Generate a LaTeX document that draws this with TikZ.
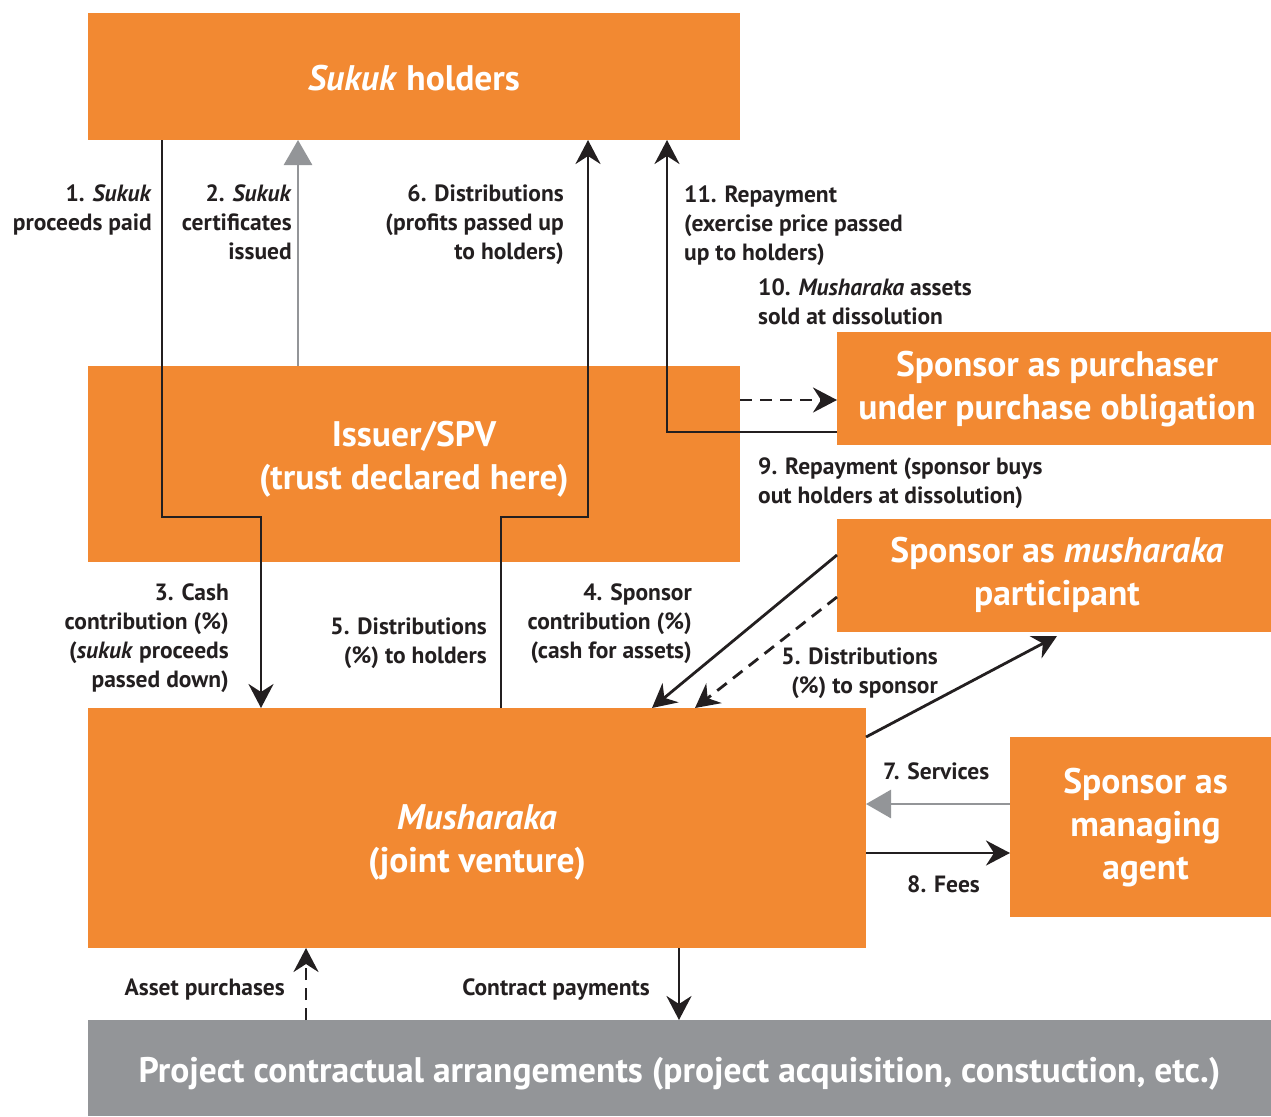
\documentclass[tikz,border=0pt]{standalone}
\usepackage{fontspec}
\setmainfont{PT Sans}
\usetikzlibrary{arrows.meta,calc}
\definecolor{orng}{RGB}{242,137,50}
\definecolor{gry}{RGB}{147,149,152}
\definecolor{ink}{RGB}{35,31,32}
\begin{document}
\begin{tikzpicture}[x=1pt,y=-1pt,
  box/.style={fill=orng, inner sep=0pt, outer sep=0pt, anchor=north west},
  btxt/.style={text=white, inner sep=0pt, font=\fontsize{35.5}{43}\selectfont\bfseries, align=center},
  lbl/.style={text=ink, font=\fontsize{23.5}{29}\selectfont\bfseries, inner sep=0pt},
  lblr/.style={lbl, align=right, anchor=north east},
  lbll/.style={lbl, align=left, anchor=north west},
  flow/.style={draw=ink, line width=2.8pt, -{Stealth[length=24pt,width=25pt,inset=8pt]}},
  dflow/.style={flow, dash pattern=on 12pt off 8pt},
  gflow/.style={draw=gry, line width=2.8pt, -{Triangle[length=25pt,width=28pt]}}]
\useasboundingbox (0,0) rectangle (1271,1116);
% boxes
\node[box, minimum width=652pt, minimum height=127pt,
  label={[btxt, name=holdersT, yshift=-2pt]center:\textit{Sukuk} holders}] (holders) at (88,13) {};
\node[box, minimum width=652pt, minimum height=196pt,
  label={[btxt, name=issuerT, yshift=5pt]center:{Issuer/SPV\\(trust declared here)}}] (issuer) at (88,366) {};
\node[box, minimum width=434pt, minimum height=113pt,
  label={[btxt, name=purchT, yshift=-1pt, xshift=3pt]center:{Sponsor as purchaser\\under purchase obligation}}] (purch) at (837,332) {};
\node[box, minimum width=434pt, minimum height=113pt,
  label={[btxt, name=partT, yshift=1pt, xshift=3pt]center:{Sponsor as \textit{musharaka}\\participant}}] (part) at (837,519) {};
\node[box, minimum width=778pt, minimum height=240pt,
  label={[btxt, name=mushT, yshift=-14pt]center:{\textit{Musharaka}\\(joint venture)}}] (mush) at (88,708) {};
\node[box, minimum width=261pt, minimum height=180pt,
  label={[btxt, name=agentT, yshift=-1pt, xshift=5pt]center:{Sponsor as\\managing\\agent}}] (agent) at (1010,737) {};
\node[box, fill=gry, minimum width=1183pt, minimum height=96pt,
  label={[btxt, name=projT, yshift=-6pt]center:{Project contractual arrangements (project acquisition, constuction, etc.)}}] (proj) at (88,1020) {};
% connectors
\draw[flow] ($(holders.south west)+(74,0)$) |- ($(issuer.north west)+(173,151)$) -- ($(mush.north west)+(173,0)$);
\draw[gflow] ($(issuer.north west)+(210,0)$) -- ($(holders.south west)+(210,0)$);
\draw[flow] ($(mush.north west)+(413,0)$) |- ($(issuer.north west)+(500,151)$) -- ($(holders.south west)+(500,0)$);
\draw[flow] ($(purch.south west)+(0,-13)$) -| ($(holders.south west)+(579,0)$);
\draw[dflow] ($(issuer.north east)+(0,34)$) -- ($(purch.north west)+(0,68)$);
\draw[flow] ($(part.north west)+(0,36)$) -- ($(mush.north west)+(564,0)$);
\draw[dflow] ($(part.north west)+(0,78)$) -- ($(mush.north west)+(607,0)$);
\draw[flow] ($(mush.north east)+(0,29)$) -- ($(part.south west)+(220,4)$);
\draw[gflow] ($(agent.north west)+(0,67)$) -- ($(mush.north east)+(0,96)$);
\draw[flow] ($(mush.north east)+(0,145)$) -- ($(agent.north west)+(0,116)$);
\draw[dflow] ($(proj.north west)+(218,0)$) -- ($(mush.south west)+(218,0)$);
\draw[flow] ($(mush.south west)+(591,0)$) -- ($(proj.north west)+(591,0)$);
% labels
\node[lblr] (l1) at (152,185) {1. \textit{Sukuk}\\proceeds paid};
\node[lblr] (l2) at (292,185) {2. \textit{Sukuk}\\certificates\\issued};
\node[lblr] (l6) at (564,185) {6. Distributions\\(profits passed up\\to holders)};
\node[lbll] (l11) at (684,186) {11. Repayment\\(exercise price passed\\up to holders)};
\node[lbll] (l10) at (758,279) {10. \textit{Musharaka} assets\\sold at dissolution};
\node[lbll] (l9) at (758,458) {9. Repayment (sponsor buys\\out holders at dissolution)};
\node[lblr] (l3) at (229,584) {3. Cash\\contribution (\%)\\(\textit{sukuk} proceeds\\passed down)};
\node[lblr] (l5h) at (487,618) {5. Distributions\\(\%) to holders};
\node[lblr] (l4) at (692,584) {4. Sponsor\\contribution (\%)\\(cash for assets)};
\node[lblr] (l5s) at (938,648) {5. Distributions\\(\%) to sponsor};
\node[lbll] (l7) at (883,763) {7. Services};
\node[lbll] (l8) at (907,876) {8. Fees};
\node[lblr] (la) at (285,979) {Asset purchases};
\node[lblr] (lc) at (650,979) {Contract payments};
\end{tikzpicture}
\end{document}
